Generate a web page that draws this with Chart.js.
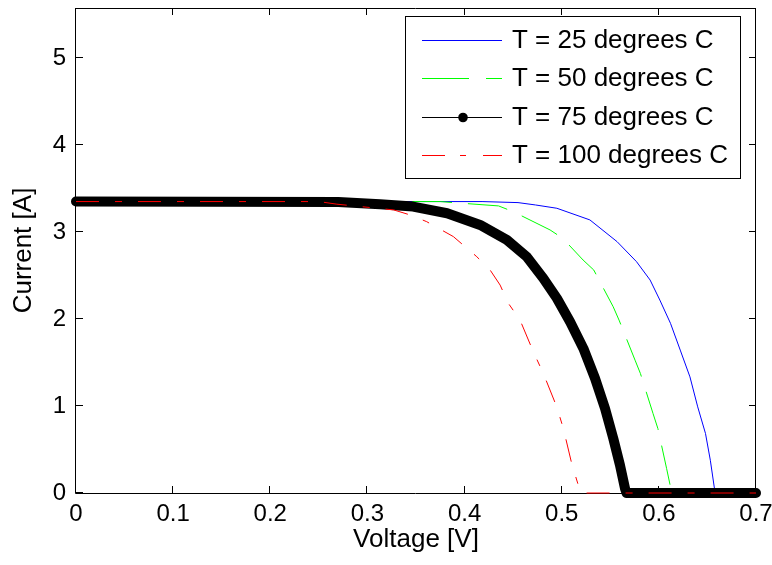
<!DOCTYPE html>
<html>
<head>
<meta charset="utf-8">
<script src="https://cdn.jsdelivr.net/npm/chart.js@4.4.1/dist/chart.umd.min.js"></script>
<style>
  html, body { margin: 0; padding: 0; background: #fff; }
  #wrap { width: 772px; height: 565px; position: relative; }
</style>
</head>
<body>
<div id="wrap"><canvas id="ivChart"></canvas></div>
<script>
// ============================================================
// DATA
// ============================================================
const xTicks = [0, 0.1, 0.2, 0.3, 0.4, 0.5, 0.6, 0.7];
const xTickLabels = ['0', '0.1', '0.2', '0.3', '0.4', '0.5', '0.6', '0.7'];
const yTicks = [0, 1, 2, 3, 4, 5];
const yTickLabels = ['0', '1', '2', '3', '4', '5'];

const seriesLabels = ['T = 25 degrees C', 'T = 50 degrees C', 'T = 75 degrees C', 'T = 100 degrees C'];

// T = 25
const v25 = [0, 0.418, 0.455, 0.473, 0.495, 0.529, 0.557, 0.577, 0.591, 0.601, 0.612, 0.622, 0.632, 0.640, 0.648, 0.653, 0.657, 0.658, 0.7];
const i25 = [3.35, 3.35, 3.338, 3.311, 3.273, 3.139, 2.889, 2.659, 2.448, 2.218, 1.95, 1.643, 1.335, 0.99, 0.684, 0.376, 0.069, 0, 0];

// T = 50
const v50 = [0, 0.375, 0.392, 0.435, 0.450, 0.488, 0.501, 0.522, 0.533, 0.553, 0.559, 0.5755, 0.581, 0.594, 0.599, 0.608, 0.612, 0.613, 0.7];
const i50 = [3.35, 3.35, 3.335, 3.30, 3.234, 3.024, 2.928, 2.678, 2.563, 2.141, 1.988, 1.527, 1.374, 0.914, 0.741, 0.28, 0.069, 0, 0];

// T = 75
const v75 = [0, 0.27, 0.313, 0.347, 0.382, 0.416, 0.4435, 0.464, 0.481, 0.495, 0.5086, 0.5223, 0.5343, 0.5446, 0.5531, 0.560, 0.5652, 0.5667, 0.7];
const i75 = [3.35, 3.345, 3.319, 3.292, 3.216, 3.081, 2.909, 2.716, 2.468, 2.238, 1.968, 1.662, 1.317, 0.971, 0.626, 0.319, 0.05, 0, 0];

// T = 100
const v100 = [0, 0.25, 0.2685, 0.327, 0.344, 0.361, 0.3885, 0.4126, 0.4263, 0.4366, 0.4451, 0.4571, 0.4708, 0.4811, 0.4949, 0.5017, 0.5103, 0.5171, 0.519, 0.7];
const i100 = [3.35, 3.35, 3.32, 3.254, 3.196, 3.119, 2.947, 2.716, 2.563, 2.39, 2.18, 1.988, 1.623, 1.374, 0.99, 0.741, 0.338, 0.089, 0, 0];

const FONT = '"Liberation Sans", Arial, Helvetica, sans-serif';
const pts = (xs, ys) => xs.map((x, k) => ({ x: x, y: ys[k] }));

// ============================================================
// PLUGINS: matlab style box with inward ticks, and the legend
// ============================================================
const axesBox = {
    id: 'axesBox',
    beforeDatasetsDraw(chart) {
        const { ctx, chartArea: a, scales } = chart;
        const tl = 7;
        ctx.save();
        ctx.strokeStyle = '#000';
        ctx.lineWidth = 1;
        ctx.beginPath();
        ctx.rect(a.left - 0.5, a.top + 0.5, a.right - a.left, a.bottom - a.top);
        scales.x.ticks.forEach(t => {
            const px = Math.round(scales.x.getPixelForValue(t.value)) - 0.5;
            ctx.moveTo(px, a.bottom); ctx.lineTo(px, a.bottom - tl);
            ctx.moveTo(px, a.top); ctx.lineTo(px, a.top + tl);
        });
        scales.y.ticks.forEach(t => {
            const py = Math.round(scales.y.getPixelForValue(t.value)) - 0.5;
            ctx.moveTo(a.left, py); ctx.lineTo(a.left + tl, py);
            ctx.moveTo(a.right, py); ctx.lineTo(a.right - tl, py);
        });
        ctx.stroke();
        ctx.restore();
    }
};

const matLegend = {
    id: 'matLegend',
    afterDraw(chart) {
        const ctx = chart.ctx;
        const box = { l: 405.5, t: 16.5, r: 740.5, b: 178.5 };
        const rows = [40.5, 78.5, 117.5, 155.5];
        ctx.save();
        ctx.fillStyle = '#fff';
        ctx.fillRect(box.l, box.t, box.r - box.l, box.b - box.t);
        ctx.strokeStyle = '#000';
        ctx.lineWidth = 1;
        ctx.strokeRect(box.l, box.t, box.r - box.l, box.b - box.t);
        chart.data.datasets.forEach((ds, k) => {
            const y = rows[k];
            ctx.save();
            ctx.strokeStyle = ds.borderColor;
            ctx.lineWidth = 1;
            ctx.setLineDash(ds.legendDash || []);
            ctx.beginPath();
            ctx.moveTo(422, y); ctx.lineTo(502, y);
            ctx.stroke();
            ctx.restore();
            if (ds.legendMarker) {
                ctx.fillStyle = ds.borderColor;
                ctx.beginPath();
                ctx.arc(463, y, 4.8, 0, Math.PI * 2);
                ctx.fill();
            }
            ctx.fillStyle = '#000';
            ctx.font = '26px ' + FONT;
            ctx.textBaseline = 'middle';
            ctx.textAlign = 'left';
            ctx.fillText(ds.label, 512, y + 0.5);
        });
        ctx.restore();
    }
};

// ============================================================
// CHART
// ============================================================
Chart.defaults.color = '#000';
const ctxIV = document.getElementById('ivChart').getContext('2d');
const ivChart = new Chart(ctxIV, {
    type: 'line',
    data: {
        datasets: [
            { label: seriesLabels[0], data: pts(v25, i25), borderColor: '#0000ff', borderWidth: 1, order: 3 },
            { label: seriesLabels[1], data: pts(v50, i50), borderColor: '#00ff00', borderWidth: 1, borderDash: [40, 16], legendDash: [47, 17], order: 2 },
            { label: seriesLabels[2], data: pts(v75, i75), borderColor: '#000000', borderWidth: 10, borderCapStyle: 'round', borderJoinStyle: 'round', legendMarker: true, order: 1 },
            { label: seriesLabels[3], data: pts(v100, i100), borderColor: '#ff0000', borderWidth: 1, borderDash: [23, 16, 7, 16], legendDash: [23, 15, 6, 17], order: 0 }
        ]
    },
    options: {
        responsive: true,
        maintainAspectRatio: false,
        animation: false,
        layout: { padding: { left: 0, right: 16, top: 8, bottom: 0 } },
        elements: { point: { radius: 0, hoverRadius: 0 }, line: { tension: 0 } },
        datasets: { line: { clip: false, fill: false } },
        plugins: { legend: { display: false }, tooltip: { enabled: false } },
        scales: {
            x: {
                type: 'linear', min: 0, max: 0.7,
                afterBuildTicks: s => { s.ticks = xTicks.map(v => ({ value: v })); },
                afterFit: s => { s.height = 72; s.paddingLeft = 0; s.paddingRight = 0; },
                grid: { display: false, drawTicks: false },
                border: { display: false },
                ticks: { autoSkip: false, maxRotation: 0, padding: 7, color: '#000', font: { family: FONT, size: 24 },
                    callback: (v, k) => xTickLabels[k] },
                title: { display: true, text: 'Voltage [V]', color: '#000', font: { family: FONT, size: 26 }, padding: { top: 0, bottom: 10 } }
            },
            y: {
                type: 'linear', min: 0, max: 5.575,
                afterBuildTicks: s => { s.ticks = yTicks.map(v => ({ value: v })); },
                afterFit: s => { s.width = 76; s.paddingTop = 0; s.paddingBottom = 0; },
                grid: { display: false, drawTicks: false },
                border: { display: false },
                ticks: { autoSkip: false, padding: 10, color: '#000', font: { family: FONT, size: 24 },
                    callback: (v, k) => yTickLabels[k] },
                title: { display: true, text: 'Current [A]', color: '#000', font: { family: FONT, size: 26 }, padding: { top: 8.6, bottom: 0 } }
            }
        }
    },
    plugins: [axesBox, matLegend]
});
</script>
</body>
</html>
